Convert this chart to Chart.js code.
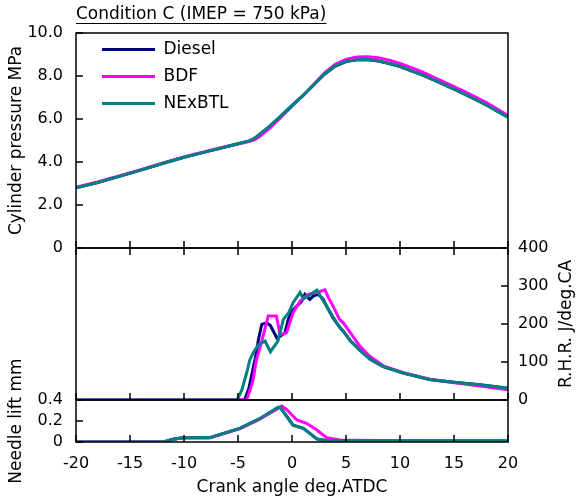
<!DOCTYPE html>
<html>
<head>
<meta charset="utf-8">
<script src="https://cdn.jsdelivr.net/npm/chart.js@4.4.1/dist/chart.umd.min.js"></script>
<style>
  html, body { margin: 0; padding: 0; background: #fff; }
</style>
</head>
<body>
<canvas id="combustion" width="578" height="504"></canvas>
<script>
const fuels = ['Diesel', 'BDF', 'NExBTL'];
const fuelColors = ['#000080', '#ff00ff', '#008080'];
const drawOrder = [2, 1, 0]; // NExBTL drawn on top

// cylinder pressure, MPa
const pressureAngle = [-20, -18, -16, -14, -12, -10, -8, -6, -5, -4, -3.5, -3, -2, -1, 0, 1, 2, 3, 4, 5, 6, 7, 8, 9, 10, 11, 12, 14, 16, 18, 20];
const pressureDiesel = [2.80, 3.05, 3.33, 3.62, 3.93, 4.22, 4.47, 4.72, 4.85, 4.97, 5.07, 5.26, 5.68, 6.15, 6.62, 7.08, 7.58, 8.08, 8.46, 8.67, 8.75, 8.76, 8.70, 8.58, 8.44, 8.25, 8.06, 7.62, 7.16, 6.65, 6.08];
const pressureBDF = [2.82, 3.07, 3.35, 3.64, 3.95, 4.24, 4.49, 4.73, 4.84, 4.95, 5.03, 5.19, 5.60, 6.10, 6.60, 7.08, 7.60, 8.14, 8.54, 8.77, 8.88, 8.90, 8.85, 8.74, 8.58, 8.40, 8.20, 7.74, 7.27, 6.76, 6.16];
const pressureNExBTL = [2.80, 3.05, 3.33, 3.62, 3.93, 4.22, 4.47, 4.72, 4.85, 4.98, 5.10, 5.30, 5.70, 6.16, 6.63, 7.09, 7.58, 8.10, 8.48, 8.68, 8.76, 8.77, 8.70, 8.58, 8.44, 8.25, 8.06, 7.62, 7.16, 6.65, 6.08];

// rate of heat release, J/deg.CA
const rhrAngleDiesel = [-20, -4.4, -4.0, -3.7, -3.4, -3.1, -2.8, -2.35, -2.0, -1.4, -1.1, -0.65, -0.35, 0.0, 0.45, 0.9, 1.2, 1.65, 2.0, 2.45, 2.9, 3.2, 3.8, 4.4, 4.75, 5.4, 6.3, 7.2, 8.45, 10.3, 12.8, 15.2, 17.4, 20];
const rhrDiesel = [0, 0, 30, 70, 110, 160, 199, 203, 196, 163, 168, 177, 212, 234, 247, 260, 278, 265, 274, 278, 265, 247, 216, 192, 181, 156, 132, 108, 88, 71, 54, 46, 40, 31];
const rhrAngleBDF = [-20, -4.2, -3.9, -3.6, -3.3, -2.8, -2.2, -1.45, -1.1, -0.5, 0.1, 0.75, 1.5, 2.3, 3.05, 3.4, 3.8, 4.4, 4.75, 5.4, 6.3, 7.2, 8.45, 10.3, 12.8, 15.2, 17.4, 20];
const rhrBDF = [0, 0, 25, 53, 106, 155, 221, 221, 172, 177, 230, 260, 278, 283, 290, 268, 247, 212, 203, 177, 141, 115, 90, 72, 54, 45, 37, 27];
const rhrAngleNExBTL = [-20, -5.1, -4.65, -4.2, -3.9, -3.6, -3.1, -2.5, -2.0, -1.3, -0.8, -0.3, 0.1, 0.75, 1.05, 1.5, 2.3, 3.2, 4.1, 4.45, 5.1, 5.4, 6.3, 7.2, 8.45, 10.3, 12.8, 15.2, 17.4, 20];
const rhrNExBTL = [0, 0, 26, 71, 106, 124, 146, 155, 127, 155, 212, 230, 256, 283, 266, 274, 289, 247, 205, 190, 168, 155, 130, 108, 88, 71, 53, 46, 40, 31];

// injector needle lift, mm
const liftAngle = [-20, -11.9, -11.0, -10.1, -7.6, -4.8, -3.0, -1.3, -1.1, -0.8, 0.1, 1.05, 2.3, 3.2, 20];
const liftDiesel = [0, 0, 0.026, 0.041, 0.041, 0.13, 0.22, 0.325, 0.33, 0.29, 0.16, 0.13, 0.03, 0.012, 0.01];
const liftNExBTL = [0, 0, 0.026, 0.040, 0.042, 0.132, 0.222, 0.33, 0.33, 0.29, 0.16, 0.13, 0.03, 0.012, 0.012];
const liftAngleBDF = [-20, -11.9, -11.0, -10.1, -7.6, -4.8, -3.0, -1.3, -0.95, -0.5, 0.45, 1.35, 2.3, 3.2, 4.45, 14, 15, 20];
const liftBDF = [0, 0, 0.026, 0.040, 0.040, 0.128, 0.218, 0.32, 0.343, 0.31, 0.21, 0.178, 0.114, 0.041, 0.02, 0.004, 0, 0];

// axes
const angleTicks = [-20, -15, -10, -5, 0, 5, 10, 15, 20];
const angleTickLabels = ['-20', '-15', '-10', '-5', '0', '5', '10', '15', '20'];
const pressureTicks = [0, 2, 4, 6, 8, 10];
const pressureTickLabels = ['0', '2.0', '4.0', '6.0', '8.0', '10.0'];
const rhrTicks = [0, 100, 200, 300, 400];
const rhrTickLabels = ['0', '100', '200', '300', '400'];
const liftTicks = [0, 0.2, 0.4];
const liftTickLabels = ['0', '0.2', '0.4'];

const titleText = 'Condition C (IMEP = 750 kPa)';
const rhrTitle = 'R.H.R. J/deg.CA';
const FONT = 'DejaVu Sans';

function pairs(xs, ys) {
  return xs.map((x, i) => ({x: x, y: ys[i]}));
}

function line(k, xs, ys, axis) {
  return {
    label: fuels[k],
    data: pairs(xs, ys),
    borderColor: fuelColors[k],
    backgroundColor: fuelColors[k],
    borderWidth: 3,
    pointRadius: 0,
    tension: 0,
    fill: false,
    order: drawOrder[k],
    yAxisID: axis
  };
}

function fixedTicks(values) {
  return function(scale) {
    scale.ticks = values.map(v => ({value: v}));
  };
}

// panel frames, inward tick marks, rotated right-hand title, underlined chart title
const panelFrames = {
  id: 'panelFrames',
  afterLayout(chart) {
    // put the legend in the upper left of the pressure panel
    const lg = chart.legend;
    const h = lg.bottom - lg.top;
    lg.left = chart.chartArea.left + 16;
    lg.top = chart.chartArea.top - 2;
    lg.bottom = lg.top + h;
  },
  afterDatasetsDraw(chart) {
    const {ctx, chartArea: ca, scales} = chart;
    const xs = scales.x, yP = scales.yP, yR = scales.yR, yN = scales.yN;
    const tl = 7;
    ctx.save();
    ctx.strokeStyle = '#000';
    ctx.lineWidth = 1.5;
    [yP, yR, yN].forEach(s => {
      ctx.strokeRect(ca.left, s.top, ca.right - ca.left, s.bottom - s.top);
    });
    ctx.beginPath();
    angleTicks.forEach(v => {
      const px = xs.getPixelForValue(v);
      ctx.moveTo(px, yP.bottom); ctx.lineTo(px, yP.bottom - tl);
      ctx.moveTo(px, yR.top); ctx.lineTo(px, yR.top + tl);
      ctx.moveTo(px, yR.bottom); ctx.lineTo(px, yR.bottom - tl);
      ctx.moveTo(px, yN.bottom); ctx.lineTo(px, yN.bottom - tl);
    });
    pressureTicks.forEach(v => {
      const py = yP.getPixelForValue(v);
      ctx.moveTo(ca.left, py); ctx.lineTo(ca.left + tl, py);
    });
    rhrTicks.forEach(v => {
      const py = yR.getPixelForValue(v);
      ctx.moveTo(ca.right, py); ctx.lineTo(ca.right - tl, py);
    });
    liftTicks.forEach(v => {
      const py = yN.getPixelForValue(v);
      ctx.moveTo(ca.left, py); ctx.lineTo(ca.left + tl, py);
    });
    ctx.stroke();

    // right axis title reads bottom to top
    ctx.fillStyle = '#000';
    ctx.font = '17px "' + FONT + '"';
    ctx.textAlign = 'center';
    ctx.textBaseline = 'middle';
    ctx.translate(yR.right - 11.5, (yR.top + yR.bottom) / 2);
    ctx.rotate(-Math.PI / 2);
    ctx.fillText(rhrTitle, 0, 0);
    ctx.restore();

    // underline the chart title
    const tb = chart.titleBlock;
    ctx.save();
    ctx.font = '17px "' + FONT + '"';
    const w = ctx.measureText(titleText).width;
    const mid = tb.top + 4.6 + 10.2;
    ctx.strokeStyle = '#000';
    ctx.lineWidth = 1;
    ctx.beginPath();
    ctx.moveTo(tb.left, Math.round(mid + 8) + 0.5);
    ctx.lineTo(tb.left + w, Math.round(mid + 8) + 0.5);
    ctx.stroke();
    ctx.restore();
  }
};

Chart.defaults.font.family = FONT;
Chart.defaults.font.size = 16;
Chart.defaults.color = '#000';

const ctx = document.getElementById('combustion');

const combustionChart = new Chart(ctx, {
  type: 'line',
  data: {
    datasets: [
      line(0, pressureAngle, pressureDiesel, 'yP'),
      line(1, pressureAngle, pressureBDF, 'yP'),
      line(2, pressureAngle, pressureNExBTL, 'yP'),
      line(0, rhrAngleDiesel, rhrDiesel, 'yR'),
      line(1, rhrAngleBDF, rhrBDF, 'yR'),
      line(2, rhrAngleNExBTL, rhrNExBTL, 'yR'),
      line(0, liftAngle, liftDiesel, 'yN'),
      line(1, liftAngleBDF, liftBDF, 'yN'),
      line(2, liftAngle, liftNExBTL, 'yN')
    ]
  },
  options: {
    responsive: false,
    animation: false,
    devicePixelRatio: 1,
    layout: {padding: 0},
    plugins: {
      title: {
        display: true,
        text: titleText,
        align: 'start',
        fullSize: false,
        font: {size: 17, weight: 'normal'},
        padding: {top: 4.6, bottom: 8}
      },
      legend: {
        position: 'chartArea',
        align: 'start',
        labels: {
          usePointStyle: true,
          pointStyle: 'line',
          pointStyleWidth: 53,
          padding: 10,
          font: {size: 17},
          filter: item => item.datasetIndex < 3,
          sort: (a, b) => a.datasetIndex - b.datasetIndex
        }
      },
      tooltip: {enabled: false}
    },
    scales: {
      x: {
        type: 'linear',
        min: -20,
        max: 20,
        afterBuildTicks: fixedTicks(angleTicks),
        afterFit(scale) { scale.height = 62; },
        grid: {display: false, drawTicks: false},
        border: {display: false},
        ticks: {
          padding: 12,
          autoSkip: false,
          maxRotation: 0,
          callback: (v, i) => angleTickLabels[i]
        },
        title: {display: true, text: 'Crank angle deg.ATDC', font: {size: 17}, padding: {top: 0, bottom: 5.8}}
      },
      yP: {
        type: 'linear',
        position: 'left',
        stack: 'left',
        stackWeight: 215,
        weight: 3,
        min: 0,
        max: 10,
        afterBuildTicks: fixedTicks(pressureTicks),
        afterFit(scale) { scale.width = 76; },
        grid: {display: false, drawTicks: false},
        border: {display: false},
        ticks: {padding: 13, autoSkip: false, callback: (v, i) => pressureTickLabels[i]},
        title: {display: true, text: 'Cylinder pressure MPa', font: {size: 17}, padding: {top: 6.3, bottom: 0}}
      },
      yLmid: {
        type: 'linear',
        position: 'left',
        stack: 'left',
        stackWeight: 152,
        weight: 2,
        display: false,
        afterFit(scale) { scale.width = 76; }
      },
      yN: {
        type: 'linear',
        position: 'left',
        stack: 'left',
        stackWeight: 42,
        weight: 1,
        min: 0,
        max: 0.4,
        afterBuildTicks: fixedTicks(liftTicks),
        afterFit(scale) { scale.width = 76; },
        grid: {display: false, drawTicks: false},
        border: {display: false},
        ticks: {padding: 13, autoSkip: false, callback: (v, i) => liftTickLabels[i]},
        title: {display: true, text: 'Needle lift mm', font: {size: 17}, padding: {top: 6.3, bottom: 0}}
      },
      yRtop: {
        type: 'linear',
        position: 'right',
        stack: 'right',
        stackWeight: 215,
        weight: 1,
        display: false,
        afterFit(scale) { scale.width = 70; }
      },
      yR: {
        type: 'linear',
        position: 'right',
        stack: 'right',
        stackWeight: 152,
        weight: 2,
        min: 0,
        max: 400,
        afterBuildTicks: fixedTicks(rhrTicks),
        afterFit(scale) { scale.width = 70; },
        grid: {display: false, drawTicks: false},
        border: {display: false},
        ticks: {padding: 10, autoSkip: false, callback: (v, i) => rhrTickLabels[i]}
      },
      yRbot: {
        type: 'linear',
        position: 'right',
        stack: 'right',
        stackWeight: 42,
        weight: 3,
        display: false,
        afterFit(scale) { scale.width = 70; }
      }
    }
  },
  plugins: [panelFrames]
});
</script>
</body>
</html>
